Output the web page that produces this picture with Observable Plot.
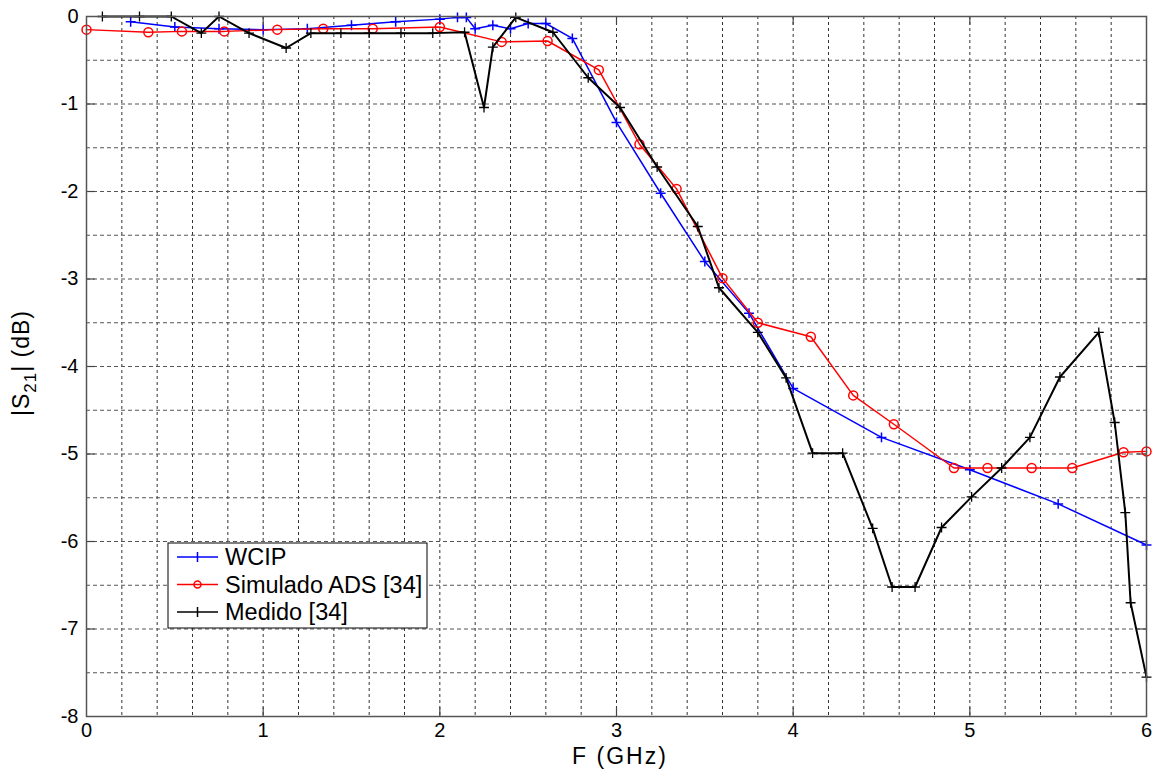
<!DOCTYPE html>
<html><head><meta charset="utf-8">
<script src="https://cdn.jsdelivr.net/npm/d3@7"></script>
<script src="https://cdn.jsdelivr.net/npm/@observablehq/plot@0.6"></script>
<style>
body{margin:0;background:#fff;}
#chart{width:1158px;height:774px;}
</style></head><body><div id="chart"></div>
<script>
// WCIP (blue)
const wcipF = [0.25,0.5,0.75,1.0,1.25,1.5,1.75,2.0,2.1,2.15,2.2,2.3,2.4,2.5,2.6,2.75,3.0,3.25,3.5,3.75,4.0,4.5,5.0,5.5,6.0];
const wcipS = [-0.06,-0.12,-0.14,-0.15,-0.14,-0.1,-0.06,-0.03,-0.01,-0.01,-0.14,-0.1,-0.14,-0.08,-0.08,-0.25,-1.21,-2.02,-2.8,-3.39,-4.25,-4.81,-5.18,-5.57,-6.04];
// Simulado ADS [34] (red)
const adsF = [0,0.35,0.54,0.78,1.08,1.34,1.62,2.0,2.35,2.61,2.9,3.13,3.34,3.6,3.8,4.1,4.34,4.57,4.91,5.1,5.35,5.58,5.87,6.0];
const adsS = [-0.15,-0.18,-0.17,-0.17,-0.15,-0.14,-0.14,-0.12,-0.29,-0.28,-0.61,-1.46,-1.97,-2.99,-3.5,-3.66,-4.33,-4.66,-5.16,-5.16,-5.16,-5.16,-4.98,-4.97];
// Medido [34] (black)
const medF = [0.09,0.3,0.48,0.65,0.75,0.92,1.13,1.27,1.44,1.6,1.78,1.96,2.14,2.25,2.3,2.43,2.64,2.84,3.02,3.23,3.46,3.58,3.8,3.96,4.11,4.28,4.45,4.56,4.69,4.84,5.01,5.18,5.34,5.51,5.73,5.82,5.88,5.91,6.0];
const medS = [0,0,0,-0.19,0,-0.19,-0.36,-0.19,-0.19,-0.19,-0.19,-0.19,-0.18,-1.04,-0.35,-0.01,-0.18,-0.7,-1.04,-1.72,-2.4,-3.1,-3.61,-4.13,-4.99,-4.99,-5.85,-6.52,-6.52,-5.84,-5.49,-5.16,-4.81,-4.12,-3.61,-4.64,-5.67,-6.7,-7.55];

const xTicks = [0,1,2,3,4,5,6];
const yTicks = [-8,-7,-6,-5,-4,-3,-2,-1,0];
const xGrid = [0.2,0.4,0.6,0.8,1,1.2,1.4,1.6,1.8,2,2.2,2.4,2.6,2.8,3,3.2,3.4,3.6,3.8,4,4.2,4.4,4.6,4.8,5,5.2,5.4,5.6,5.8];
const yGrid = [-7.5,-7,-6.5,-6,-5.5,-5,-4.5,-4,-3.5,-3,-2.5,-2,-1.5,-1,-0.5];

const seriesNames = ["WCIP","Simulado ADS [34]","Medido [34]"];
const seriesColors = ["#0000ff","#ff0000","#000000"];

const wcip = wcipF.map((f,i)=>({f, s:wcipS[i]}));
const ads = adsF.map((f,i)=>({f, s:adsS[i]}));
const med = medF.map((f,i)=>({f, s:medS[i]}));

const font = "'Liberation Sans', Arial, sans-serif";
const innerX = xTicks.slice(1,-1);
const innerY = yTicks.slice(1,-1);

const chart = Plot.plot({
  width:1158, height:774,
  marginLeft:86, marginRight:12, marginTop:16, marginBottom:58,
  x:{domain:[0,6]},
  y:{domain:[-8,0]},
  style:{fontFamily:font, fontSize:"20px", background:"#fff", color:"#000"},
  marks:[
    Plot.ruleX(xGrid,{stroke:"#333", strokeWidth:1, strokeDasharray:"3,3"}),
    Plot.ruleY(yGrid,{stroke:"#555", strokeWidth:1, strokeDasharray:"4,3"}),
    Plot.ruleX(innerX,{y1:-8, y2:-7.9, stroke:"#444", strokeWidth:1.2}),
    Plot.ruleX(innerX,{y1:0, y2:-0.1, stroke:"#444", strokeWidth:1.2}),
    Plot.ruleY(innerY,{x1:0, x2:0.05, stroke:"#444", strokeWidth:1.2}),
    Plot.ruleY(innerY,{x1:6, x2:5.95, stroke:"#444", strokeWidth:1.2}),
    Plot.axisX(xTicks,{tickSize:0, tickPadding:6, label:null, tickFormat:d=>String(d), fontSize:20}),
    Plot.axisY(yTicks,{tickSize:0, tickPadding:8, label:null, tickFormat:d=>String(d), fontSize:20}),
    Plot.line(wcip,{x:"f", y:"s", stroke:seriesColors[0], strokeWidth:1.5}),
    Plot.dot(wcip,{x:"f", y:"s", symbol:"plus", r:3.3, stroke:seriesColors[0], strokeWidth:1.5}),
    Plot.line(ads,{x:"f", y:"s", stroke:seriesColors[1], strokeWidth:1.5}),
    Plot.dot(ads,{x:"f", y:"s", symbol:"circle", r:4.5, stroke:seriesColors[1], fill:"none", strokeWidth:1.5}),
    Plot.line(med,{x:"f", y:"s", stroke:seriesColors[2], strokeWidth:2}),
    Plot.dot(med,{x:"f", y:"s", symbol:"plus", r:3.3, stroke:seriesColors[2], strokeWidth:1.3}),
    Plot.frame({stroke:"#555", strokeWidth:1.5})
  ]
});
document.getElementById("chart").appendChild(chart);

const svg = d3.select(chart);
// axis titles
svg.append("text").attr("x",620).attr("y",764).attr("text-anchor","middle")
  .attr("font-family",font).attr("font-size",23).attr("letter-spacing",2).attr("fill","#000").text("F (GHz)");
const yl = svg.append("text").attr("transform","translate(29,363) rotate(-90)").attr("text-anchor","middle")
  .attr("font-family",font).attr("font-size",23).attr("letter-spacing",1).attr("fill","#000");
yl.append("tspan").text("|S");
yl.append("tspan").attr("font-size",17).attr("dy",7).text("21");
yl.append("tspan").attr("dy",-7).text("| (dB)");

// legend
const lg = svg.append("g").attr("transform","translate(168,543)");
lg.append("rect").attr("width",259).attr("height",85).attr("fill","#fff").attr("stroke","#000").attr("stroke-width",1);
seriesNames.forEach((name,i)=>{
  const cy = 14 + i*27.5;
  const g = lg.append("g").attr("transform",`translate(0,${cy})`);
  g.append("line").attr("x1",9).attr("x2",50).attr("stroke",seriesColors[i]).attr("stroke-width",1.5);
  if(i===1){
    g.append("circle").attr("cx",29.5).attr("r",3.5).attr("fill","none").attr("stroke",seriesColors[i]).attr("stroke-width",1.5);
  } else {
    g.append("line").attr("x1",29.5).attr("x2",29.5).attr("y1",-5).attr("y2",5).attr("stroke",seriesColors[i]).attr("stroke-width",1.5);
  }
  g.append("text").attr("x",57).attr("y",0).attr("dy","0.36em").attr("text-anchor","start")
    .attr("font-family",font).attr("font-size",23.5).attr("fill","#000").text(name);
});
</script>
</body></html>
